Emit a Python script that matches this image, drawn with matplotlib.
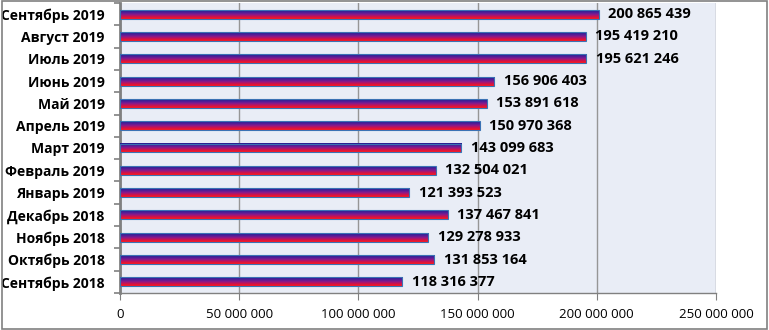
import numpy as np
import matplotlib.pyplot as plt
from matplotlib.colors import LinearSegmentedColormap
from matplotlib.patches import Rectangle
from matplotlib.ticker import FuncFormatter

# months from bottom to top
months = ['Сентябрь 2018', 'Октябрь 2018', 'Ноябрь 2018', 'Декабрь 2018',
          'Январь 2019', 'Февраль 2019', 'Март 2019', 'Апрель 2019',
          'Май 2019', 'Июнь 2019', 'Июль 2019', 'Август 2019', 'Сентябрь 2019']
values = [118316377, 131853164, 129278933, 137467841,
          121393523, 132504021, 143099683, 150970368,
          153891618, 156906403, 195621246, 195419210, 200865439]
x_ticks = [0, 50000000, 100000000, 150000000, 200000000, 250000000]

plt.rcParams['font.family'] = ['Open Sans', 'DejaVu Sans']

fig = plt.figure(figsize=(7.69, 3.30), dpi=100)
ax = fig.add_axes([120 / 769, 1 - 293 / 330, (716 - 120) / 769, 290 / 330])
ax.set_facecolor('#e9edf6')

# gradient fill: blue on top, purple, red at the bottom
cmap = LinearSegmentedColormap.from_list(
    'bar', ['#1e2090', '#4a1e98', '#8a1a8c', '#d0124a', '#ff1a1a'])
grad = np.linspace(0, 1, 64).reshape(-1, 1)
h = 0.4
y = np.arange(len(months))
for yi, v in zip(y, values):
    ax.imshow(grad, cmap=cmap, aspect='auto', origin='upper',
              extent=[0, v, yi - h / 2, yi + h / 2], zorder=3,
              interpolation='bilinear')
ax.barh(y, values, height=h, fill=False, edgecolor='#3b72b4',
        linewidth=0.8, zorder=4)

for yi, v in zip(y, values):
    lbl = f'{v:,}'.replace(',', ' ')
    ax.text(v + 4.0e6, yi, lbl, va='center', ha='left',
            fontsize=10.5, fontweight='bold', zorder=5)

ax.set_xlim(0, 250000000)
ax.set_ylim(-0.5, len(months) - 0.5)
ax.set_xticks(x_ticks)
ax.xaxis.set_major_formatter(FuncFormatter(lambda v, p: f'{int(v):,}'.replace(',', ' ')))
ax.tick_params(axis='x', length=5, color='#808080', labelsize=9.5, pad=6)
ax.grid(axis='x', color='#969696', linewidth=1, zorder=1)

ax.set_yticks(y)
ax.set_yticklabels(months, fontweight='bold', fontsize=10)
ax.set_yticks(np.arange(-0.5, len(months), 1), minor=True)
ax.tick_params(axis='y', which='major', length=0, pad=11)
ax.tick_params(axis='y', which='minor', length=4, color='#808080', width=1.2)

for s in ['top', 'right']:
    ax.spines[s].set_visible(False)
ax.spines['left'].set_color('#808080')
ax.spines['left'].set_linewidth(2)
ax.spines['bottom'].set_color('#808080')
ax.spines['bottom'].set_linewidth(1)

fig.patches.append(Rectangle((0.002, 0.003), 0.995, 0.993, transform=fig.transFigure,
                             fill=False, edgecolor='#808080', linewidth=1.2))

fig.savefig('out.png', dpi=100)
